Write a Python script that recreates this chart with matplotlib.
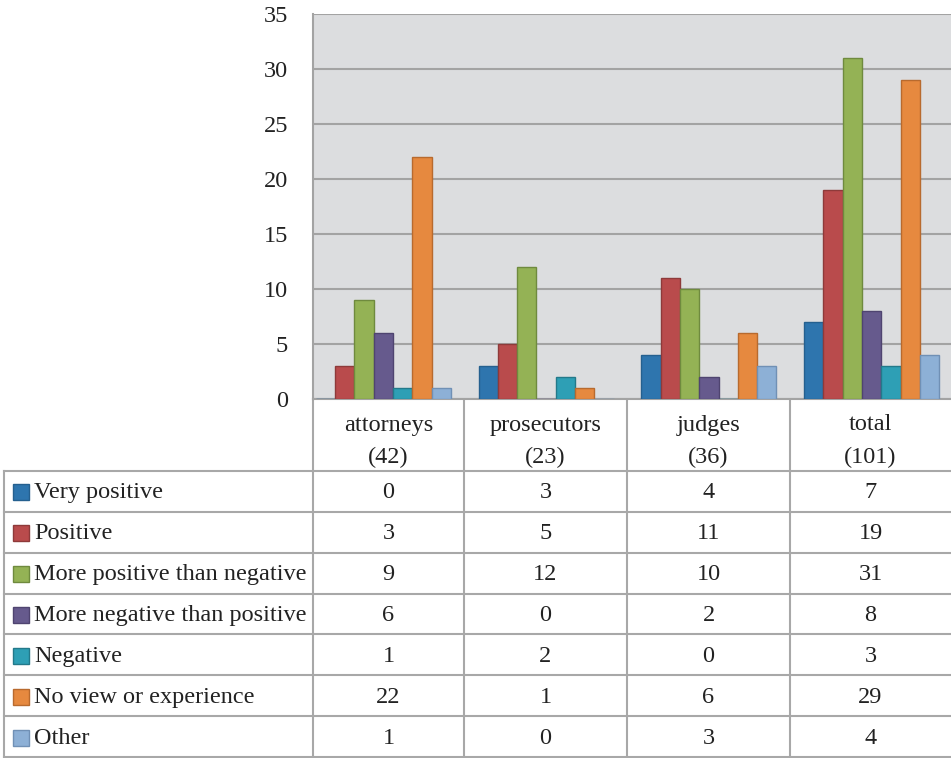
import matplotlib
matplotlib.use("Agg")
import matplotlib.pyplot as plt
import numpy as np

plt.rcParams['font.family'] = ['Liberation Serif', 'DejaVu Serif']

# --- data ---
groups = ["attorneys", "prosecutors", "judges", "total"]
group_n = ["(42)", "(23)", "(36)", "(101)"]
categories = ["Very positive", "Positive", "More positive than negative",
              "More negative than positive", "Negative",
              "No view or experience", "Other"]
very_positive = [0, 3, 4, 7]
positive = [3, 5, 11, 19]
more_pos = [9, 12, 10, 31]
more_neg = [6, 0, 2, 8]
negative = [1, 2, 0, 3]
no_view = [22, 1, 6, 29]
other = [1, 0, 3, 4]
series = [very_positive, positive, more_pos, more_neg, negative, no_view, other]

colors = ["#2E75AE", "#B94B4C", "#94B255", "#665A8D", "#2E9FB5", "#E6893F", "#8DB0D6"]
edges = ["#25608F", "#8E3A3A", "#6F8A3E", "#4F4470", "#23798A", "#B86A2E", "#7090B5"]

W, H = 951, 758
fig = plt.figure(figsize=(W / 100, H / 100), dpi=100)
fs = 17.5
tc = "#222222"

# --- chart area ---
x0, top, bot, right = 313, 14, 399, 951
ax = fig.add_axes([x0 / W, 1 - bot / H, (right - x0) / W, (bot - top) / H])
ax.set_facecolor("#DCDDDF")

gw = 163.0  # px per group
bw = 19.3 / gw
x = np.arange(len(groups))
for i, (vals, c, e) in enumerate(zip(series, colors, edges)):
    ax.bar(x + (i - 3) * bw, vals, width=bw, color=c, edgecolor=e,
           linewidth=1.0, zorder=3)

ax.set_xlim(-(383.5 - x0) / gw, 3 + (right - 871.5) / gw)
ax.set_ylim(0, 35)
ax.set_yticks(range(0, 36, 5))
ax.set_xticks([])
ax.tick_params(axis='y', length=0, pad=18, labelsize=fs, colors=tc)
ax.yaxis.grid(True, color="#A3A3A3", linewidth=1.5, zorder=1)
ax.set_axisbelow(True)
for s in ["top", "right"]:
    ax.spines[s].set_visible(False)
for s in ["left", "bottom"]:
    ax.spines[s].set_color("#A3A3A3")
    ax.spines[s].set_linewidth(1.5)

# --- data table ---
tab = fig.add_axes([0, 0, 1, 1], zorder=-1)
tab.set_xlim(0, W)
tab.set_ylim(H, 0)
tab.axis("off")

lc = "#A8A8A8"
cols = [313, 464, 627, 790, 951]
row_top = 471
row_h = (757 - 471) / 7
rows = [row_top + k * row_h for k in range(8)]

for cx in cols[:-1]:
    tab.plot([cx, cx], [bot, 757], color=lc, lw=1.5)
tab.plot([4, 4], [row_top, 757], color=lc, lw=1.5)
for ry in rows:
    tab.plot([4, 951], [ry, ry], color=lc, lw=1.5)

for j, (g, n) in enumerate(zip(groups, group_n)):
    cx = (cols[j] + cols[j + 1]) / 2
    tab.text(cx, 425, g, ha="center", va="center", fontsize=fs, color=tc)
    tab.text(cx, 457, n, ha="center", va="center", fontsize=fs, color=tc)

for k, (name, vals) in enumerate(zip(categories, series)):
    cy = rows[k] + row_h / 2 + 1.5
    tab.add_patch(plt.Rectangle((13, cy - 8.5), 16, 16, facecolor=colors[k],
                                edgecolor=edges[k], lw=1.0))
    tab.text(34, cy, name, ha="left", va="center", fontsize=fs, color=tc)
    for j, v in enumerate(vals):
        cx = (cols[j] + cols[j + 1]) / 2
        tab.text(cx, cy, str(v), ha="center", va="center", fontsize=fs,
                 color=tc)

fig.savefig("out.png", dpi=100)
